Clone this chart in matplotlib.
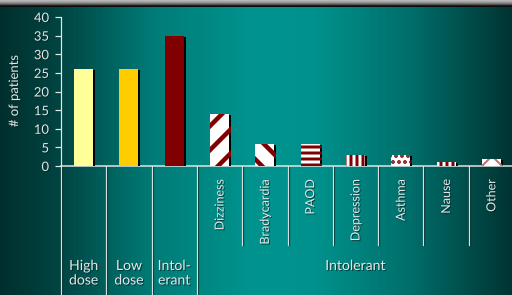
import matplotlib
matplotlib.use('Agg')
import matplotlib.pyplot as plt
import matplotlib.patheffects as pe
from matplotlib.lines import Line2D
import numpy as np

# data
bar_values = [26, 26, 35, 14, 6, 6, 3, 3, 1, 2]
bar_colors = ['#ffff99', '#ffcc00', '#800000', 'white', 'white', 'white', 'white', 'white', 'white', 'white']
bar_hatches = [None, None, None, '/', '\\', '--', '||', '..', '||', 'x']
hatch_colors = [None, None, None, '#800000', '#800000', '#800000', '#800000', '#800000', '#800000', '#c07070']
hatch_widths = [1, 1, 1, 4.5, 4.5, 3.0, 3.0, 2.5, 3.0, 2.0]
side_effects = ['Dizziness', 'Bradycardia', 'PAOD', 'Depression', 'Asthma', 'Nause', 'Other']
group_labels = ['High\ndose', 'Low\ndose', 'Intol-\nerant']
group_intolerant = 'Intolerant'
y_ticks = [0, 5, 10, 15, 20, 25, 30, 35, 40]

plt.rcParams['font.family'] = ['Lato', 'DejaVu Sans']

W, H = 512, 295
fig = plt.figure(figsize=(W / 72, H / 72), dpi=72)

# background: horizontal teal gradient
bg = fig.add_axes([0, 0, 1, 1], zorder=-10)
stops = [0.0, 0.12, 0.3, 0.5, 0.62, 0.8, 1.0]
level = [0.32, 0.47, 0.84, 1.0, 0.98, 0.75, 0.35]
xs = np.linspace(0, 1, 512)
lv = np.interp(xs, stops, level)
grad = np.zeros((2, 512, 3))
grad[:, :, 1] = lv * 0.58
grad[:, :, 2] = lv * 0.56
bg.imshow(grad, aspect='auto', extent=[0, 1, 0, 1])
bg.axis('off')

# grey strip on top
top = fig.add_axes([0, 1 - 7 / H, 1, 7 / H], zorder=-9)
strip = np.array([0.72, 0.66, 0.58, 0.46, 0.32, 0.12, 0.05])
top.imshow(np.repeat(strip[:, None, None], 3, axis=2) * np.ones((7, 10, 3)), aspect='auto', extent=[0, 1, 0, 1])
top.axis('off')

txt_col = '#e6e6e6'
shadow = [pe.withSimplePatchShadow(offset=(1, -1), shadow_rgbFace='#002222', alpha=0.7)]

ax = fig.add_axes([61 / W, 129 / H, 453 / W, 149 / H])
ax.set_facecolor('none')
x = np.arange(len(bar_values))
for i, v in enumerate(bar_values):
    with plt.rc_context({'hatch.linewidth': hatch_widths[i]}):
        b = ax.bar(x[i], v, width=0.42, color=bar_colors[i], hatch=bar_hatches[i],
                   edgecolor=hatch_colors[i] or bar_colors[i], linewidth=0, zorder=3)
    b[0].set_path_effects([pe.withSimplePatchShadow(offset=(2, -1), shadow_rgbFace='black', alpha=1)])

ax.set_xlim(-0.5, len(bar_values) - 0.5)
ax.set_ylim(0, 40)
ax.set_yticks(y_ticks)
ax.set_xticks([])
for s in ['top', 'right']:
    ax.spines[s].set_visible(False)
ax.spines['left'].set_color(txt_col)
ax.spines['bottom'].set_color(txt_col)
ax.spines['left'].set_linewidth(1.2)
ax.spines['bottom'].set_linewidth(1.5)
ax.tick_params(axis='y', colors=txt_col, length=6, width=1.2, pad=6, labelsize=13)
for lbl in ax.get_yticklabels():
    lbl.set_path_effects(shadow)

fig.text(14 / W, 1 - 91 / H, '# of patients', rotation=90, ha='center', va='center',
         color=txt_col, fontsize=13, path_effects=shadow)

# category table below the axis
tr = ax.get_xaxis_transform()
px = 1 / 149
line_fx = [pe.SimpleLineShadow(offset=(1, 0), shadow_color='#002020', alpha=0.8), pe.Normal()]
for d in [-0.5, 0.5, 1.5, 2.5]:
    ax.add_line(Line2D([d, d], [0, -1.0], transform=tr, color='#d8e0e0', lw=1.2,
                       clip_on=False, path_effects=line_fx))
for d in np.arange(3.5, 9, 1.0):
    ax.add_line(Line2D([d, d], [0, -79 * px], transform=tr, color='#d8e0e0', lw=1.2,
                       clip_on=False, path_effects=line_fx))

for i, name in enumerate(side_effects):
    ax.text(3 + i, -13 * px, name, rotation=90, ha='center', va='top', transform=tr,
            color=txt_col, fontsize=12.5, path_effects=shadow)

for i, name in enumerate(group_labels):
    ax.text(i, -94 * px, name, ha='center', va='top', transform=tr, color=txt_col,
            fontsize=14, linespacing=1.25, path_effects=shadow)
ax.text(6, -94 * px, group_intolerant, ha='center', va='top', transform=tr, color=txt_col,
        fontsize=14, path_effects=shadow)

fig.savefig('out.png', dpi=72)
